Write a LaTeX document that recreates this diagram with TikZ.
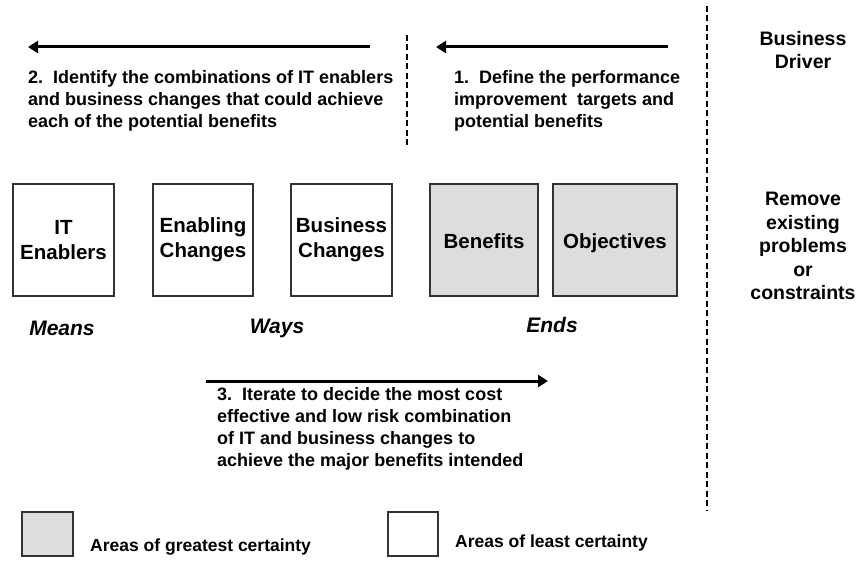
\documentclass[tikz,border=0pt]{standalone}
\usepackage{fontspec}
\setmainfont{Liberation Sans}
\usepackage{tikz}
\usetikzlibrary{arrows.meta,positioning}
\definecolor{certain}{HTML}{DDDDDD}
\definecolor{edge}{HTML}{333333}

\begin{document}
\begin{tikzpicture}[x=1pt,y=-1pt,
  every node/.style={font=\bfseries\fontsize{18}{22}\selectfont,inner sep=0pt},
  area/.style={draw=edge,line width=1.4pt,minimum height=112pt,align=center,
    font=\bfseries\fontsize{20.5}{25}\selectfont},
  sure/.style={area,fill=certain,text height=18pt,text depth=2pt},
  note/.style={align=left,anchor=north west},
  label/.style={font=\bfseries\itshape\fontsize{21}{24}\selectfont},
  side/.style={align=center,font=\bfseries\fontsize{19.5}{23.5}\selectfont},
  key/.style={anchor=west,font=\bfseries\fontsize{17.5}{20}\selectfont},
  arr/.style={-{Triangle[length=10pt,width=12pt]},line width=3pt},
  divider/.style={line width=2.2pt,dash pattern=on 6pt off 3.5pt}
]
\useasboundingbox (0,0) rectangle (858,561);

% means - ways - ends
\node[area,minimum width=101pt] (it)  at (63.5,240) {IT\\Enablers};
\node[area,minimum width=100pt] (enab) at (203,240) {Enabling\\Changes};
\node[area,minimum width=101pt] (bus) at (341.5,240) {Business\\Changes};
\node[sure,minimum width=108pt] (ben) at (484,240) {Benefits};
\node[sure,minimum width=124pt] (obj) at (615,240) {Objectives};

\node[label] (means) at (62,328) {Means};
\node[label] (ways) at (277,328) {Ways};
\node[label] (ends) at (552,325) {Ends};

% steps 1 and 2
\coordinate (s1a) at (668,47);
\coordinate (s1b) at (436,47);
\draw[arr] (s1a) -- (s1b);
\node[note] (s1) at (454,70) {1.\ \ Define the performance\\improvement\ \ targets and\\potential benefits};

\coordinate (s2a) at (370,47);
\coordinate (s2b) at (28,47);
\draw[arr] (s2a) -- (s2b);
\node[note] (s2) at (28,70) {2.\ \ Identify the combinations of IT enablers\\and business changes that could achieve\\each of the potential benefits};

\coordinate (splitT) at (407,35);
\coordinate (splitB) at (407,148);
\draw[divider] (splitT) -- (splitB);

% step 3
\coordinate (s3a) at (206,381);
\coordinate (s3b) at (548,381);
\draw[arr] (s3a) -- (s3b);
\node[note] (s3) at (217,387) {3.\ \ Iterate to decide the most cost\\effective and low risk combination\\of IT and business changes to\\achieve the major benefits intended};

% driver column
\coordinate (driveT) at (707,6);
\coordinate (driveB) at (707,510);
\draw[divider] (driveT) -- (driveB);
\node[side] (driver) at (803,50) {Business\\Driver};
\node[side] (remove) at (803,246) {Remove\\existing\\problems\\or\\constraints};

% key
\node[area,fill=certain,minimum width=51pt,minimum height=44pt] (keyG) at (47.5,534) {};
\node[area,minimum width=50pt,minimum height=44pt] (keyW) at (413,534) {};
\node[key] (keyGt) at (90,547) {Areas of greatest certainty};
\node[key] (keyWt) at (455,543) {Areas of least certainty};
\end{tikzpicture}
\end{document}
